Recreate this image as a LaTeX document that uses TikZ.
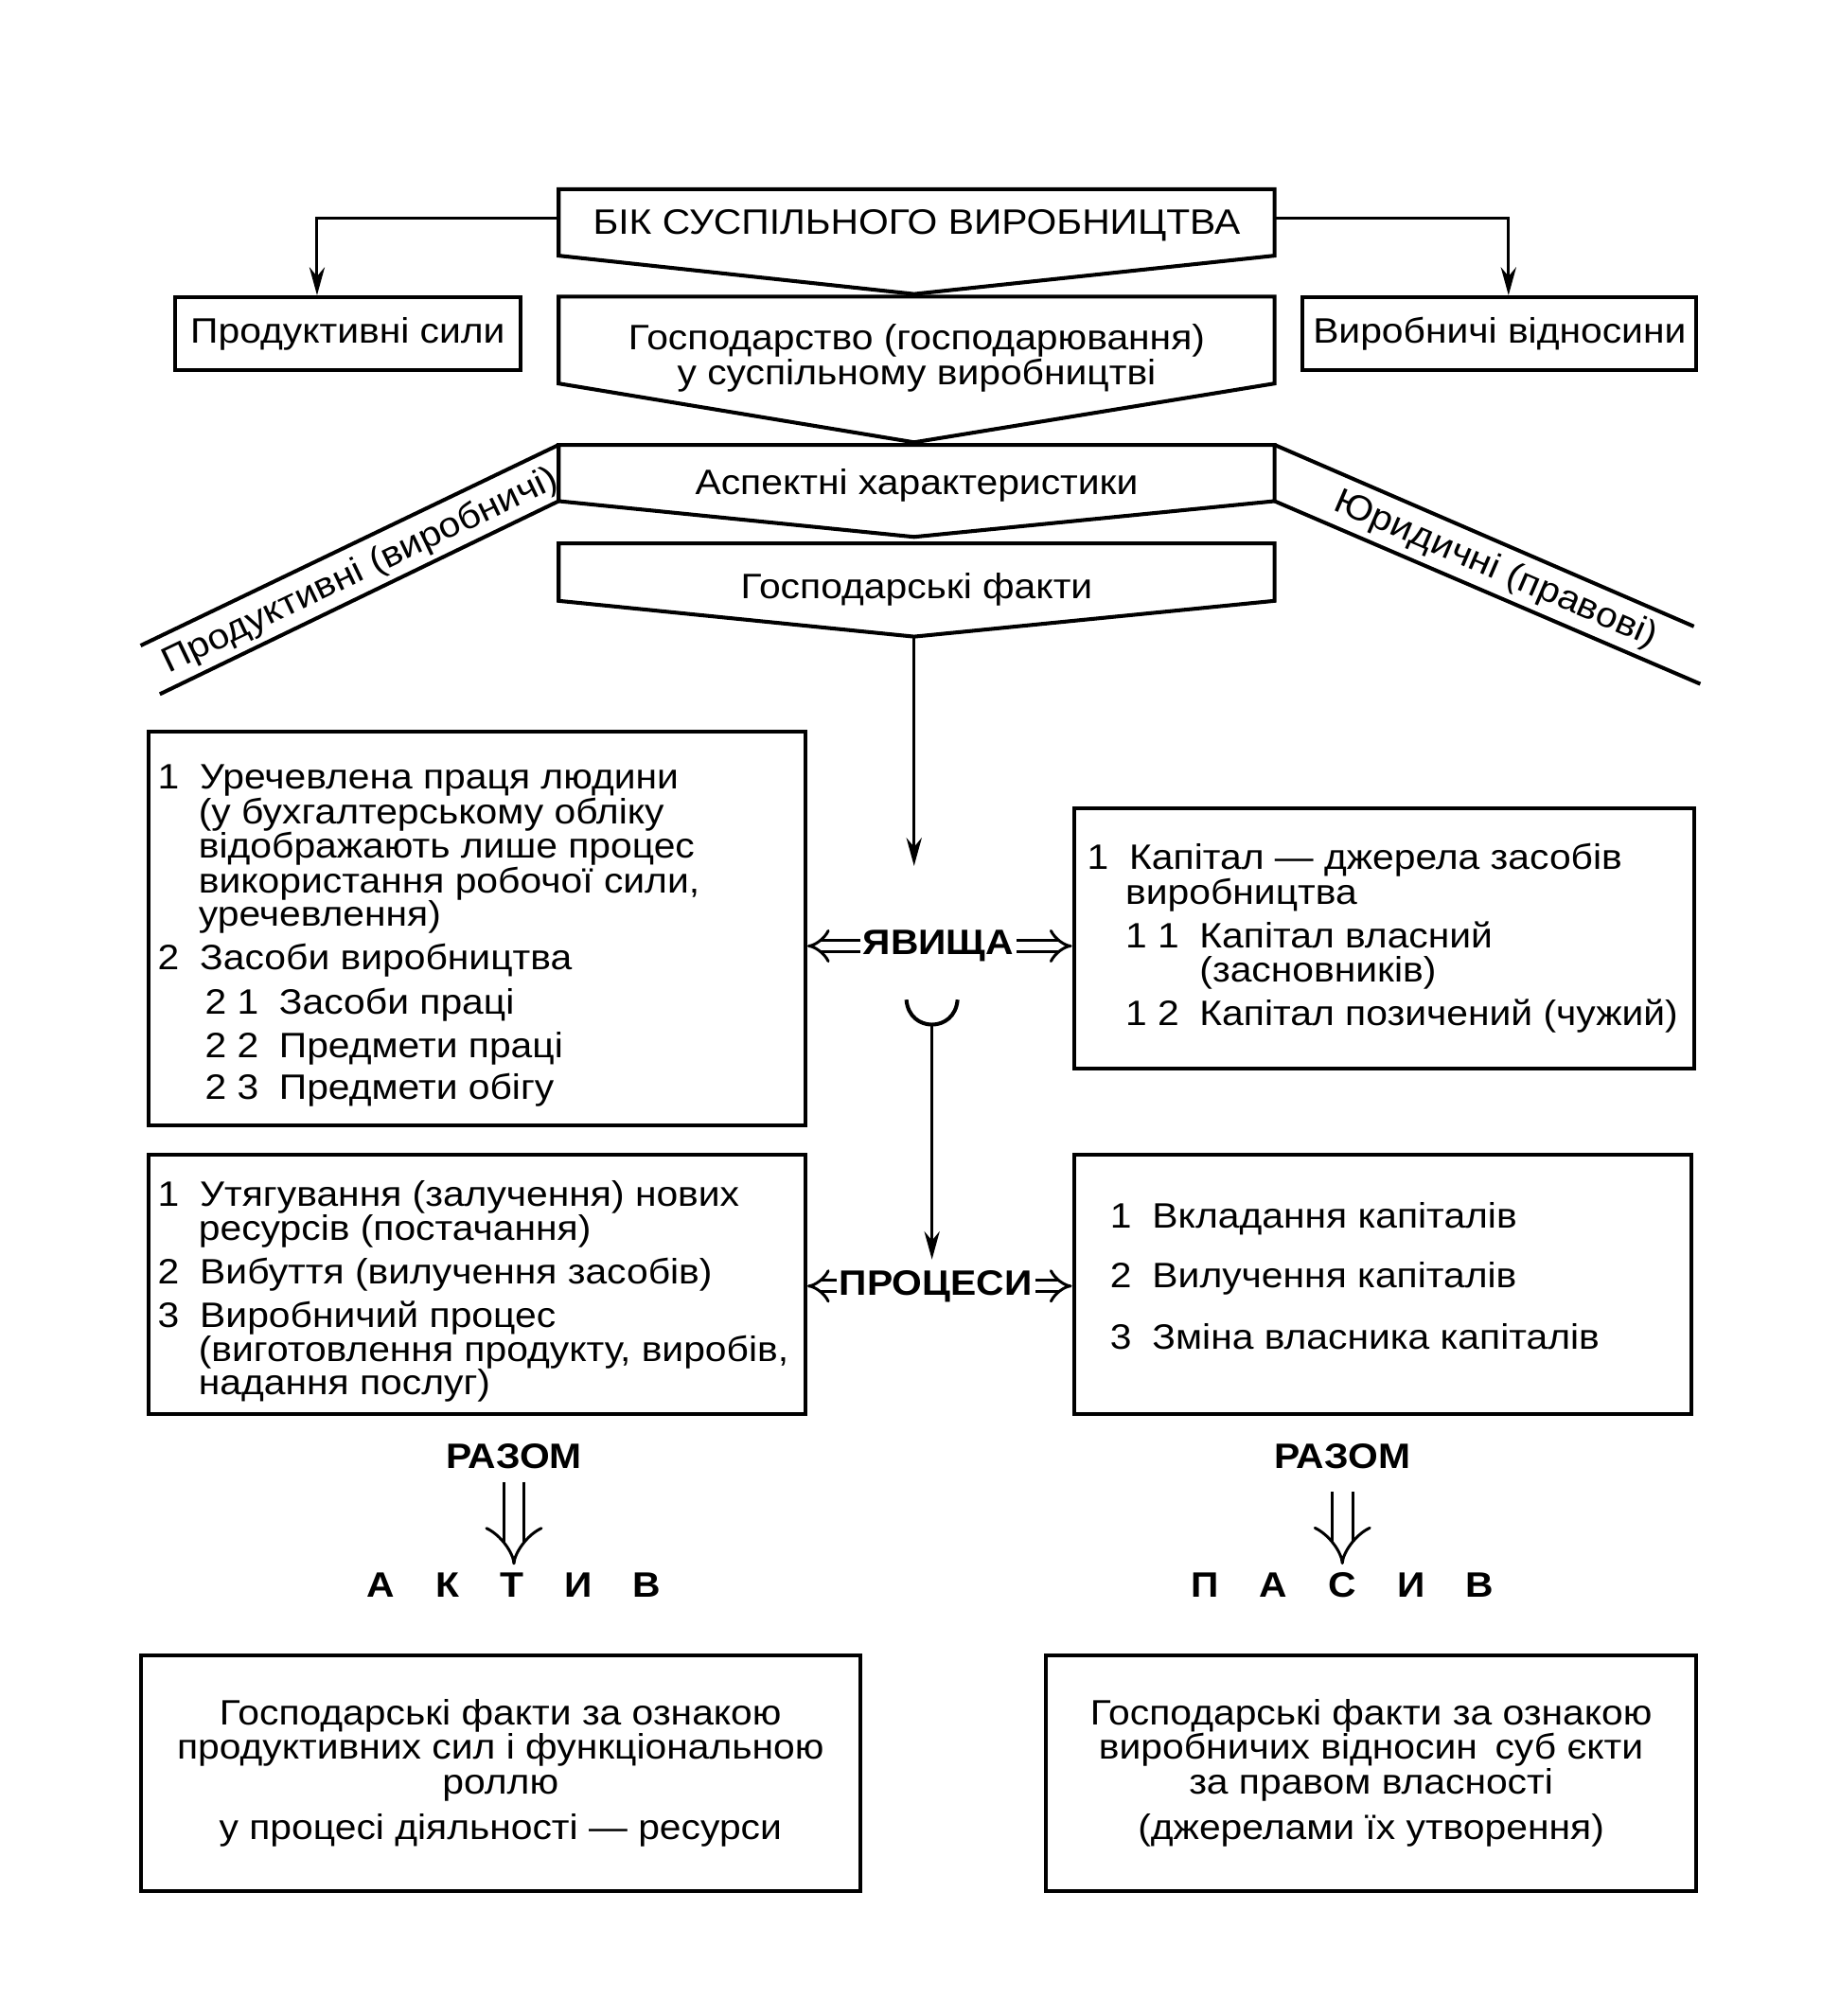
\documentclass[tikz,border=0pt]{standalone}
\usepackage{fontspec}
\setmainfont{Liberation Sans}[FakeStretch=1.095]
\usetikzlibrary{arrows.meta}
\newcommand{\numb}[1]{\makebox[16.5pt][l]{#1}}
\newcommand{\subnumb}[1]{\makebox[29pt][l]{#1}}

\begin{document}
\begin{tikzpicture}[x=0.5pt,y=-0.5pt,
  every node/.style={font=\fontsize{13.8}{13.5}\selectfont},
  box/.style={line width=1.5pt, line join=miter},
  rbox/.style={draw, line width=1.5pt, inner sep=2pt},
  arr/.style={line width=1.1pt, -{Stealth[length=11pt,width=6pt]}},
  dbl/.style={double, double distance=3.4pt, line width=1.1pt, -{Implies}},
  dbldown/.style={double, double distance=7pt, line width=1.1pt, -{Implies}},
  big/.style={font=\fontsize{13.8}{13.5}\selectfont\bfseries, inner sep=1pt}]
  \useasboundingbox (0,0) rectangle (1425,1577);

  % top part
  \draw[box] (437,148) -- (997,148) -- (997,200) -- (715,230) -- (437,200) -- cycle;
  \node (bik) at (717,176) {БІК СУСПІЛЬНОГО ВИРОБНИЦТВА};
  \coordinate (bikW) at (437,171);
  \coordinate (bikE) at (997,171);
  \node[rbox, minimum width=135pt, minimum height=28.5pt] (prod) at (272,261) {Продуктивні сили};
  \node[rbox, minimum width=154pt, minimum height=28.5pt] (virv) at (1173,261) {Виробничі відносини};
  \draw[arr] (bikW) -| ([xshift=-12pt]prod.north);
  \draw[arr] (bikE) -| ([xshift=3.5pt]virv.north);

  \draw[box] (437,232) -- (997,232) -- (997,300) -- (715,346) -- (437,300) -- cycle;
  \node[align=center] (gosp) at (717,280) {Господарство (господарювання)\\у суспільному виробництві};

  \draw[box] (437,348) -- (997,348) -- (997,392) -- (715,420) -- (437,392) -- cycle;
  \node (asp) at (717,380) {Аспектні характеристики};

  \draw[box] (437,425) -- (997,425) -- (997,470) -- (715,498) coordinate (faktTip) -- (437,470) -- cycle;
  \node (fakt) at (717,461) {Господарські факти};

  % side bands
  \draw[box] (437,348) -- (110,505);
  \draw[box] (437,392) -- (125,543);
  \node[rotate=25.6] (prodv) at (282,447) {Продуктивні (виробничі)};
  \draw[box] (997,348) -- (1325,490);
  \draw[box] (997,392) -- (1330,535);
  \node[rotate=-23.3] (jur) at (1170,446) {Юридичні (правові)};

  % middle boxes
  \node[rbox, minimum width=257pt, minimum height=154pt] (lb1) at (373,726) {};
  \node[rbox, minimum width=242.5pt, minimum height=102pt] (rb1) at (1082.5,734) {};
  \node[rbox, minimum width=257pt, minimum height=101.5pt] (lb2) at (373,1004.5) {};
  \node[rbox, minimum width=241.5pt, minimum height=101.5pt] (rb2) at (1081.5,1004.5) {};

  \foreach \yy/\xx/\txt [count=\i] in {
    {612/123/\numb{1}Уречевлена праця людини},
    {639/155/(у бухгалтерському обліку},
    {666/155/відображають лише процес},
    {693/155/використання робочої сили,},
    {719/155/уречевлення)},
    {753/123/\numb{2}Засоби виробництва},
    {788/160/\subnumb{2 1}Засоби праці},
    {822/160/\subnumb{2 2}Предмети праці},
    {855/160/\subnumb{2 3}Предмети обігу}}
    \node[anchor=mid west, inner sep=0pt] (la\i) at (\xx,\yy) {\txt};

  \foreach \yy/\xx/\txt [count=\i] in {
    {675/850/\numb{1}Капітал — джерела засобів},
    {702/880/виробництва},
    {736/880/\subnumb{1 1}Капітал власний},
    {763/938/(засновників)},
    {797/880/\subnumb{1 2}Капітал позичений (чужий)}}
    \node[anchor=mid west, inner sep=0pt] (ra\i) at (\xx,\yy) {\txt};

  \foreach \yy/\xx/\txt [count=\i] in {
    {938/123/\numb{1}Утягування (залучення) нових},
    {965/155/ресурсів (постачання)},
    {999/123/\numb{2}Вибуття (вилучення засобів)},
    {1033/123/\numb{3}Виробничий процес},
    {1060/155/(виготовлення продукту, виробів,},
    {1086/155/надання послуг)}}
    \node[anchor=mid west, inner sep=0pt] (lp\i) at (\xx,\yy) {\txt};

  \foreach \yy/\xx/\txt [count=\i] in {
    {955/868/\numb{1}Вкладання капіталів},
    {1002/868/\numb{2}Вилучення капіталів},
    {1050/868/\numb{3}Зміна власника капіталів}}
    \node[anchor=mid west, inner sep=0pt] (rp\i) at (\xx,\yy) {\txt};

  % centre column
  \node[big] (yav) at (734,740) {ЯВИЩА};
  \draw[arr, shorten >=24pt] (faktTip) -- (faktTip |- yav.north);
  \draw[dbl] (yav.west) -- (yav.west -| lb1.east);
  \draw[dbl] (yav.east) -- (yav.east -| rb1.west);

  \draw[line width=1.5pt] (709,782) .. controls (711,808) and (747,808) .. (749,782);
  \coordinate (cup) at (729,801);
  \node[big] (proc) at (732,1006) {ПРОЦЕСИ};
  \draw[arr, shorten >=3pt] (cup) -- (cup |- proc.north);
  \draw[dbl] (proc.west) -- (proc.west -| lb2.east);
  \draw[dbl] (proc.east) -- (proc.east -| rb2.west);

  % totals
  \node[big] (raz1) at (402,1139) {РАЗОМ};
  \node[big] (akt) at (402,1240) {А\hspace{16pt}К\hspace{16pt}Т\hspace{16pt}И\hspace{16pt}В};
  \draw[dbldown, shorten <=4pt, shorten >=2pt] (raz1) -- (akt);
  \node[big] (raz2) at (1050,1139) {РАЗОМ};
  \node[big] (pas) at (1050,1240) {П\hspace{16pt}А\hspace{16pt}С\hspace{16pt}И\hspace{16pt}В};
  \draw[dbldown, shorten <=8pt, shorten >=2pt] (raz2) -- (pas);

  \node[rbox, minimum width=281.5pt, minimum height=92pt, align=center] (bl) at (391.5,1387)
    {Господарські факти за ознакою\\продуктивних сил і функціональною\\роллю\\[4.5pt]у процесі діяльності — ресурси};
  \node[rbox, minimum width=254.5pt, minimum height=92pt, align=center] (br) at (1072.5,1387)
    {Господарські факти за ознакою\\виробничих відносин\enspace суб єкти\\за правом власності\\[4.5pt](джерелами їх утворення)};
\end{tikzpicture}
\end{document}
